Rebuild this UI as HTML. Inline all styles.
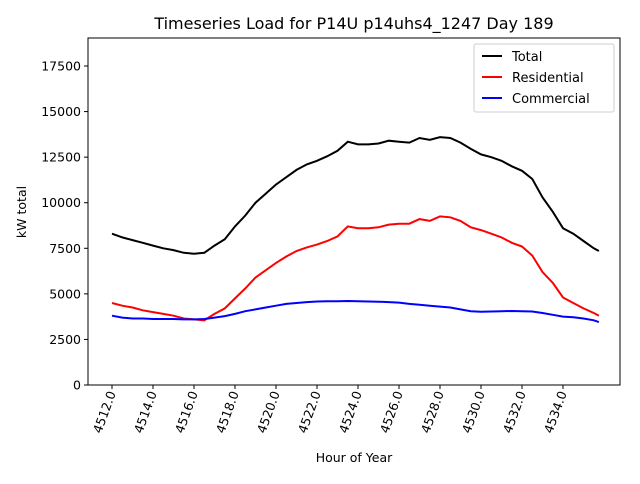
<!DOCTYPE html>
<html><head><meta charset="utf-8"><style>
body{margin:0;background:#fff;font-family:"DejaVu Sans","Liberation Sans",sans-serif;}
svg text{font-family:"DejaVu Sans","Liberation Sans",sans-serif;}
</style></head><body>
<svg id="chart" width="640" height="480" xmlns="http://www.w3.org/2000/svg">
<rect width="640" height="480" fill="#fff"/>
<text x="354" y="29" font-size="16" text-anchor="middle">Timeseries Load for P14U p14uhs4_1247  Day 189</text>
<text x="354" y="462" font-size="12.5" text-anchor="middle">Hour of Year</text>
<text transform="translate(26,212) rotate(-90)" font-size="12.5" text-anchor="middle">kW total</text>
<g id="ticks"></g>
<g id="series"></g>
<rect x="88" y="38" width="532" height="347" fill="none" stroke="#000" stroke-width="1"/>
<g>
<rect x="474" y="44" width="140" height="68" fill="#fff" stroke="#ccc" rx="2"/>
<g><line x1="482" y1="56" x2="502" y2="56" stroke="#000" stroke-width="2"/><text x="512" y="61" font-size="13">Total</text></g>
<g><line x1="482" y1="77" x2="502" y2="77" stroke="red" stroke-width="2"/><text x="512" y="82" font-size="13">Residential</text></g>
<g><line x1="482" y1="98" x2="502" y2="98" stroke="blue" stroke-width="2"/><text x="512" y="103" font-size="13">Commercial</text></g>
</g>
</svg>
<script>
const hours=[4512,4512.5,4513,4513.5,4514,4514.5,4515,4515.5,4516,4516.5,4517,4517.5,4518,4518.5,4519,4519.5,4520,4520.5,4521,4521.5,4522,4522.5,4523,4523.5,4524,4524.5,4525,4525.5,4526,4526.5,4527,4527.5,4528,4528.5,4529,4529.5,4530,4530.5,4531,4531.5,4532,4532.5,4533,4533.5,4534,4534.5,4535,4535.5,4535.75];
const totalLoad=[8300,8100,7950,7800,7650,7500,7400,7250,7200,7250,7650,8000,8700,9300,10000,10500,11000,11400,11800,12100,12300,12550,12850,13350,13200,13200,13250,13400,13350,13300,13550,13450,13600,13550,13300,12950,12650,12500,12300,12000,11750,11300,10300,9500,8600,8300,7900,7500,7350];
const residentialLoad=[4500,4350,4250,4100,4000,3900,3800,3650,3600,3550,3900,4200,4750,5300,5900,6300,6700,7050,7350,7550,7700,7900,8150,8700,8600,8600,8650,8800,8850,8850,9100,9000,9250,9200,9000,8650,8500,8300,8100,7800,7600,7100,6200,5600,4800,4500,4200,3950,3800];
const commercialLoad=[3800,3700,3650,3650,3620,3620,3620,3600,3600,3620,3700,3780,3900,4050,4150,4250,4350,4450,4500,4550,4580,4590,4600,4610,4600,4580,4570,4550,4520,4450,4400,4350,4300,4250,4150,4050,4020,4030,4050,4060,4050,4030,3950,3850,3750,3720,3650,3550,3450];
const xTicks=[4512,4514,4516,4518,4520,4522,4524,4526,4528,4530,4532,4534];
const yTicks=[0,2500,5000,7500,10000,12500,15000,17500];
const NS="http://www.w3.org/2000/svg";
const xs=h=>112+(h-4512)*20.5;
const ys=v=>385-v*45.57/2500;
const tk=document.getElementById('ticks');
yTicks.forEach(v=>{
 const l=document.createElementNS(NS,'line');
 l.setAttribute('x1',84);l.setAttribute('x2',88);l.setAttribute('y1',ys(v));l.setAttribute('y2',ys(v));l.setAttribute('stroke','#000');
 
 
 tk.appendChild(l);
 const t=document.createElementNS(NS,'text');
 t.setAttribute('x',81);t.setAttribute('y',ys(v)+4.5);t.setAttribute('font-size','12.5');t.setAttribute('text-anchor','end');t.textContent=v;
 
 
 tk.appendChild(t);
});
xTicks.forEach(h=>{
 const l=document.createElementNS(NS,'line');
 l.setAttribute('x1',xs(h));l.setAttribute('x2',xs(h));l.setAttribute('y1',385);l.setAttribute('y2',389);l.setAttribute('stroke','#000');
 
 
 tk.appendChild(l);
 const t=document.createElementNS(NS,'text');
 t.setAttribute('transform','translate('+(xs(h)+4)+',393) rotate(-70)');t.setAttribute('font-size','12.5');t.setAttribute('text-anchor','end');t.textContent=h.toFixed(1);
 
 
 tk.appendChild(t);
});
const sg=document.getElementById('series');
[[totalLoad,'#000','total-line'],[residentialLoad,'red','residential-line'],[commercialLoad,'blue','commercial-line']].forEach(([d,c,n])=>{
 const p=document.createElementNS(NS,'polyline');
 p.setAttribute('points',d.map((v,i)=>xs(hours[i]).toFixed(1)+','+ys(v).toFixed(1)).join(' '));
 p.setAttribute('fill','none');p.setAttribute('stroke',c);p.setAttribute('stroke-width','2');
 
 
 sg.appendChild(p);
});
</script>
</body></html>
